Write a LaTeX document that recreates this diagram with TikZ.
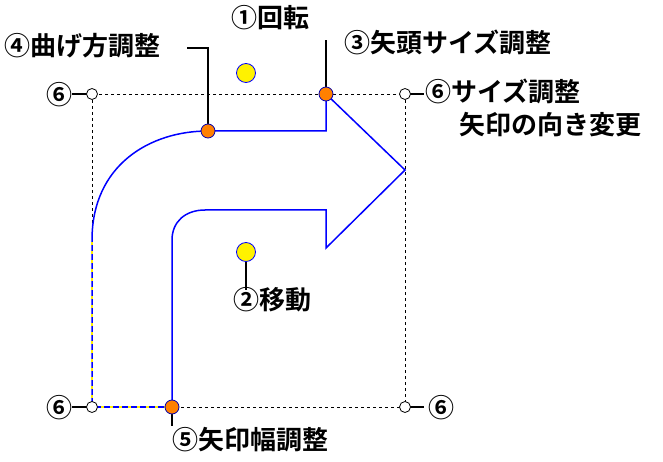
\documentclass[tikz,border=0pt]{standalone}
\usepackage{fontspec}
\setmainfont{Noto Sans CJK JP}[BoldFont={* Bold}]
\begin{document}
\begin{tikzpicture}[x=1pt,y=-1pt,
 lab/.style={font=\fontsize{26}{33}\selectfont\bfseries,inner sep=0pt},
 hy/.style={circle,draw=blue,fill=yellow,minimum size=19pt,inner sep=0pt,line width=0.8pt},
 ho/.style={circle,draw=blue!70!black,fill=orange,minimum size=14pt,inner sep=0pt,line width=0.8pt},
 hw/.style={circle,draw=black,fill=white,minimum size=11pt,inner sep=0pt,line width=0.8pt},
 lead/.style={line width=2.2pt}]
\path[use as bounding box] (0,0) rectangle (663,462);
\draw[dashed,line width=0.8pt,dash pattern=on 3pt off 3pt] (92,94) rectangle (405,407);
\draw[blue,line width=1.5pt] (92,407) -- (92,240) .. controls (92,165) and (150,131) .. (208,131) -- (326,131) -- (326,94) -- (405,170) -- (326,248) -- (326,210) -- (205,210) .. controls (185,210) and (172,222) .. (172,240) -- (172,407);
\draw[blue,line width=1.5pt] (92,407) -- (172,407);
\draw[yellow,line width=1.5pt,dash pattern=on 3pt off 6pt] (92,407) -- (172,407) (92,407)--(92,240);
% leaders
\draw[lead] (187,48) -- (208,48) -- (208,131);
\draw[lead] (326,94) -- (326,40);
\draw[lead] (246,252) -- (246,290);
\draw[lead] (172,407) -- (172,426);
\draw[lead] (92,94) -- (72,94);
\draw[lead] (92,407) -- (72,407);
\draw[lead] (405,94) -- (424,94);
\draw[lead] (405,407) -- (424,407);
% handles
\node[hw] (c1) at (92,94) {};
\node[hw] (c2) at (405,94) {};
\node[hw] (c3) at (92,407) {};
\node[hw] (c4) at (405,407) {};
\node[hy] (rot) at (246,73) {};
\node[hy] (mov) at (246,252) {};
\node[ho] (bend) at (208,131) {};
\node[ho] (head) at (326,94) {};
\node[ho] (wid) at (172,407) {};
% labels
\node[lab] (l1) at (270,18) {①回転};
\node[lab] (l2) at (272,300) {②移動};
\node[lab,anchor=west] (l3) at (344,42) {③矢頭サイズ調整};
\node[lab,anchor=west] (l4) at (4,46) {④曲げ方調整};
\node[lab] (l5) at (250,440) {⑤矢印幅調整};
\node[lab] (l6a) at (59,95) {⑥};
\node[lab] (l6c) at (59,408) {⑥};
\node[lab] (l6d) at (441,408) {⑥};
\node[lab,anchor=north west,align=left] (l6b) at (425,79) {⑥サイズ調整\\\hspace*{1.3em}矢印の向き変更};
\end{tikzpicture}
\end{document}
